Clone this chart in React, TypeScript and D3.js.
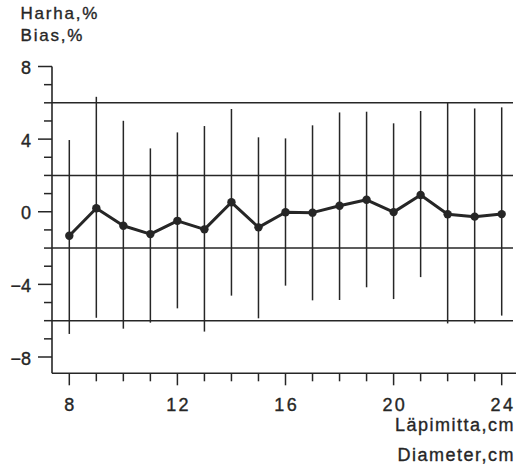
import React from "react";
import * as d3 from "d3";

const diameters = [8, 9, 10, 11, 12, 13, 14, 15, 16, 17, 18, 19, 20, 21, 22, 23, 24];
const biasMean = [-1.32, 0.19, -0.77, -1.23, -0.5, -0.97, 0.52, -0.86, -0.03, -0.05, 0.33, 0.66, -0.02, 0.92, -0.14, -0.27, -0.13];
const biasHigh = [3.95, 6.33, 5.01, 3.49, 4.37, 4.72, 5.66, 4.1, 4.04, 4.76, 5.47, 5.51, 4.87, 5.55, 6.0, 5.69, 5.75];
const biasLow = [-6.73, -5.84, -6.44, -6.11, -5.32, -6.6, -4.62, -5.87, -4.07, -4.88, -4.86, -4.16, -4.81, -3.6, -6.15, -6.15, -5.72];
const yTickLabels = [8, 4, 0, -4, -8];
const xTickLabels = [8, 12, 16, 20, 24];
const refLines = [6, 2, -2, -6];

const INK = "#262626";
const FONT = "'Liberation Sans', Arial, Helvetica, sans-serif";

export default function App() {
  const x = d3.scaleLinear().domain([8, 24]).range([69.3, 501.7]);
  const y = d3.scaleLinear().domain([8, -8]).range([66.5, 357]);
  const axisX = 52;
  const axisY = 373.3;
  const yMinorTicks = d3.range(-8, 9, 1);
  const xMinorTicks = d3.range(8, 25, 1);
  const line = d3
    .line<number>()
    .x((_, i) => x(diameters[i]))
    .y((d) => y(d));

  const fmt = (v: number) => (v < 0 ? "\u2212" + Math.abs(v) : String(v));

  return (
    <svg
      width={516}
      height={468}
      style={{ position: "absolute", left: 0, top: 0, background: "#fff" }}
    >
      <g fontFamily={FONT} fill={INK} stroke={INK} strokeWidth={0.35}>
        <text x={20.5} y={18.5} fontSize={17} letterSpacing={1.8}>Harha,%</text>
        <text x={20.5} y={40.5} fontSize={17} letterSpacing={1.8}>Bias,%</text>
        <text x={515} y={431} fontSize={18} textAnchor="end" letterSpacing={1.5}>Läpimitta,cm</text>
        <text x={515} y={460.5} fontSize={18} textAnchor="end" letterSpacing={1.5}>Diameter,cm</text>
        {yTickLabels.map((v) => (
          <text key={"yl" + v} x={31} y={y(v) + 7.5} fontSize={18} textAnchor="end">
            {fmt(v)}
          </text>
        ))}
        {xTickLabels.map((v) => (
          <text key={"xl" + v} x={x(v) + 1.2} y={411} fontSize={18} textAnchor="middle" letterSpacing={2.4}>
            {v}
          </text>
        ))}
      </g>

      {/* reference lines */}
      {refLines.map((v) => (
        <line key={"r" + v} x1={axisX} x2={513} y1={y(v)} y2={y(v)} stroke={INK} strokeWidth={1.5} />
      ))}

      {/* axes */}
      <line x1={axisX} x2={axisX} y1={y(8)} y2={axisY} stroke={INK} strokeWidth={1.6} />
      <line x1={axisX} x2={516} y1={axisY} y2={axisY} stroke={INK} strokeWidth={1.6} />

      {yMinorTicks.map((v) => {
        const major = yTickLabels.includes(v);
        return (
          <line key={"yt" + v} x1={major ? axisX - 14 : axisX - 8} x2={axisX} y1={y(v)} y2={y(v)} stroke={INK} strokeWidth={1.5} />
        );
      })}

      {xMinorTicks.map((v) => {
        const major = xTickLabels.includes(v);
        return (
          <line key={"xt" + v} x1={x(v)} x2={x(v)} y1={axisY} y2={axisY + (major ? 12 : 8)} stroke={INK} strokeWidth={1.5} />
        );
      })}

      {/* error bars */}
      {diameters.map((d, i) => (
        <line key={"e" + d} x1={x(d)} x2={x(d)} y1={y(biasHigh[i])} y2={y(biasLow[i])} stroke={INK} strokeWidth={1.5} />
      ))}

      {/* mean line */}
      <path d={line(biasMean) || ""} fill="none" stroke={INK} strokeWidth={3} strokeLinejoin="round" />
      {diameters.map((d, i) => (
        <circle key={"c" + d} cx={x(d)} cy={y(biasMean[i])} r={4.2} fill={INK} />
      ))}
    </svg>
  );
}
